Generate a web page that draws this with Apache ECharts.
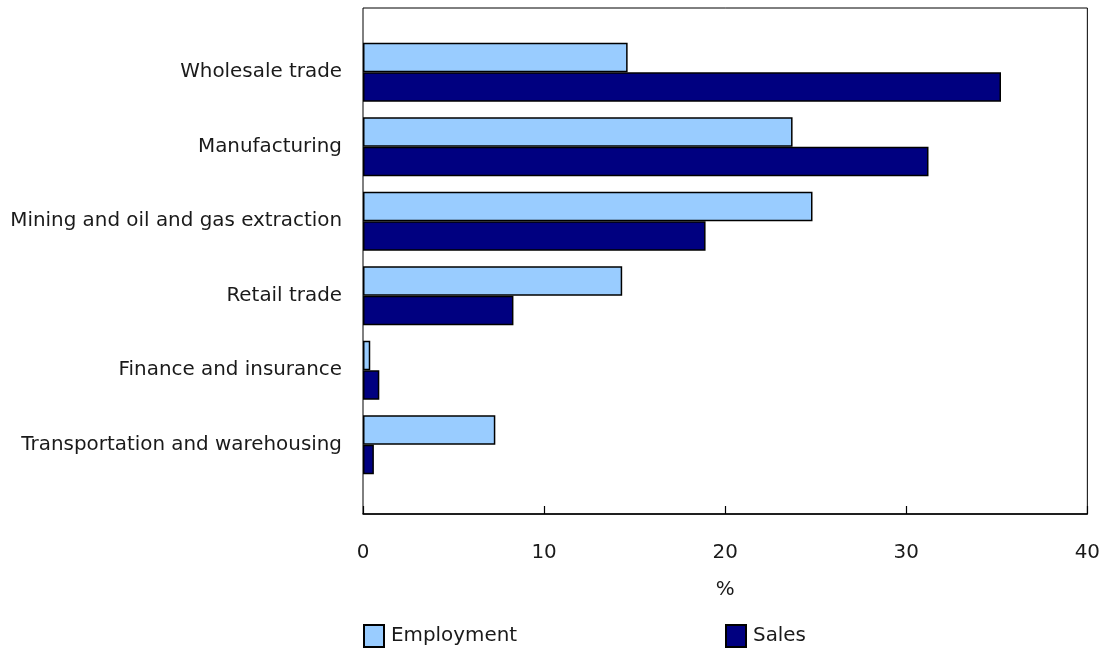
<!DOCTYPE html>
<html>
<head>
<meta charset="utf-8">
<script src="https://cdn.jsdelivr.net/npm/echarts@6/dist/echarts.min.js"></script>
<style>
  html, body { margin: 0; padding: 0; background: #ffffff; }
  #chart { width: 1103px; height: 651px; }
</style>
</head>
<body>
<div id="chart"></div>
<script>
// Industries, top to bottom
const industries = [
  'Wholesale trade',
  'Manufacturing',
  'Mining and oil and gas extraction',
  'Retail trade',
  'Finance and insurance',
  'Transportation and warehousing'
];
// Share of total (%)
const employment = [14.6, 23.7, 24.8, 14.3, 0.4, 7.3];
const sales = [35.2, 31.2, 18.9, 8.3, 0.9, 0.6];
const xTicks = [0, 10, 20, 30, 40];

const FONT = 'DejaVu Sans';
const FS = 19.9;
const TEXT = '#1a1a1a';

const chart = echarts.init(document.getElementById('chart'), null, { renderer: 'canvas' });

const legendText = { fontFamily: FONT, fontSize: FS, color: TEXT, padding: [0, 0, 0, 2] };

chart.setOption({
  animation: false,
  backgroundColor: '#ffffff',
  textStyle: { fontFamily: FONT },
  legend: [
    {
      data: ['Employment'], icon: 'rect',
      left: 363, top: 624, padding: 0,
      itemWidth: 20, itemHeight: 22, itemGap: 10,
      textStyle: legendText, selectedMode: false
    },
    {
      data: ['Sales'], icon: 'rect',
      left: 725, top: 624, padding: 0,
      itemWidth: 20, itemHeight: 22, itemGap: 10,
      textStyle: legendText, selectedMode: false
    }
  ],
  grid: [
    // frame and the % axis
    { left: 363, right: 15, top: 8, bottom: 137, show: true, borderColor: '#000', borderWidth: 1, backgroundColor: 'transparent' },
    // bar area
    { left: 363, right: 15, top: 35, bottom: 169 }
  ],
  xAxis: [
    {
      gridIndex: 0, type: 'value', min: xTicks[0], max: xTicks[xTicks.length - 1], interval: 10,
      name: '%', nameLocation: 'middle', nameGap: 66,
      nameTextStyle: { fontFamily: FONT, fontSize: FS, color: TEXT },
      axisLine: { show: true, lineStyle: { color: '#000', width: 1.5 } },
      axisTick: { show: true, inside: true, length: 8, lineStyle: { color: '#000', width: 1.2 } },
      axisLabel: { fontFamily: FONT, fontSize: FS, color: TEXT, margin: 29 },
      splitLine: { show: false }
    },
    {
      gridIndex: 1, type: 'value', min: xTicks[0], max: xTicks[xTicks.length - 1], show: false
    }
  ],
  yAxis: [
    { gridIndex: 0, type: 'value', show: false },
    {
      gridIndex: 1, type: 'category', data: industries, inverse: true,
      axisLine: { show: false }, axisTick: { show: false },
      axisLabel: { fontFamily: FONT, fontSize: FS, color: TEXT, margin: 21 }
    }
  ],
  series: [
    {
      name: 'Employment', type: 'bar', xAxisIndex: 1, yAxisIndex: 1,
      data: employment, barWidth: 29.5, barGap: '0%',
      itemStyle: { color: '#99ccff', borderColor: '#000', borderWidth: 1.5 }
    },
    {
      name: 'Sales', type: 'bar', xAxisIndex: 1, yAxisIndex: 1,
      data: sales, barWidth: 29.5, barGap: '0%',
      itemStyle: { color: '#000080', borderColor: '#000', borderWidth: 1.5 }
    }
  ]
});
</script>
</body>
</html>
